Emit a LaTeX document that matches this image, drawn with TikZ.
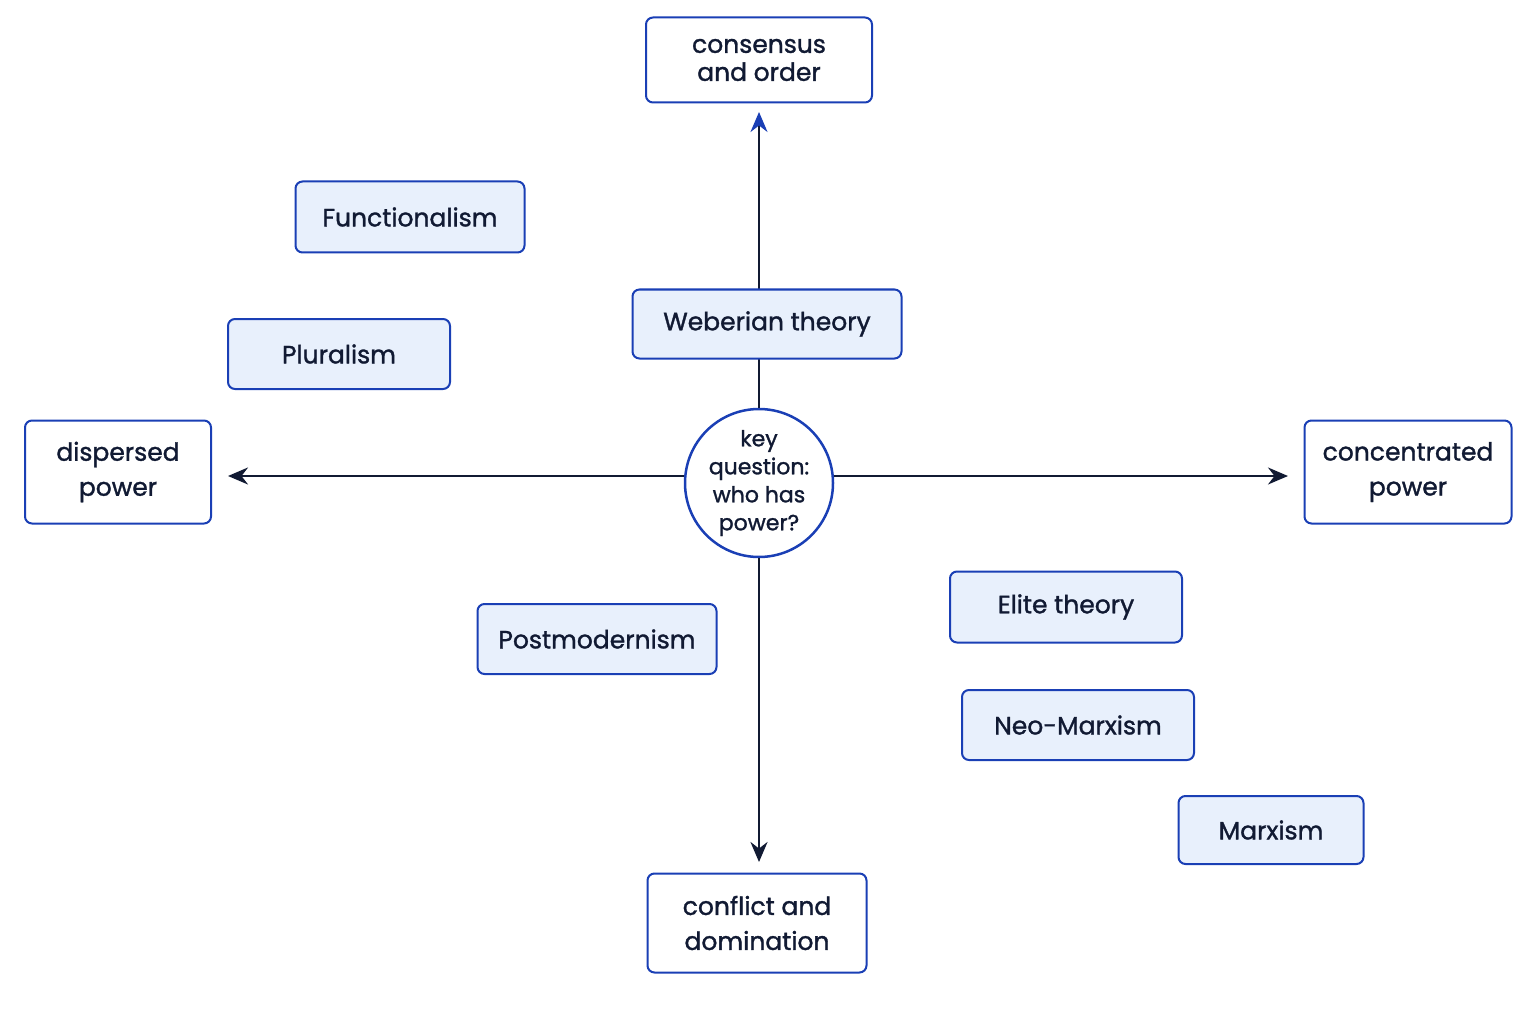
\documentclass[tikz,border=0pt]{standalone}
\usepackage{fontspec}
\setmainfont{Poppins}[FakeBold=1.3]
\usetikzlibrary{arrows.meta}
\definecolor{bblue}{HTML}{1A3FB5}
\definecolor{lfill}{HTML}{E8F0FC}
\definecolor{ink}{HTML}{111A33}
\tikzset{
 theory/.style={draw=bblue,line width=2pt,rounded corners=7pt,fill=lfill,text=ink,font=\fontsize{25}{28}\selectfont,inner sep=0pt,align=center},
 pole/.style={draw=bblue,line width=2pt,rounded corners=7pt,fill=white,text=ink,font=\fontsize{25}{35}\selectfont,inner sep=0pt,align=center},
 axis/.style={draw=ink,line width=2.5pt,-{Stealth[length=20pt,width=17pt]}}
}
\begin{document}
\begin{tikzpicture}[x=1pt,y=-1pt]
\useasboundingbox (0,0) rectangle (1536,1024);
\node[pole,minimum width=226,minimum height=85,font=\fontsize{25}{28}\selectfont] (co) at (759,60) {consensus\\and order};
\node[pole,minimum width=186,minimum height=103] (dp) at (118,472) {dispersed\\power};
\node[pole,minimum width=207,minimum height=103] (cp) at (1408,472) {concentrated\\power};
\node[pole,minimum width=219,minimum height=99] (cd) at (757,923) {conflict and\\domination};
\node[circle,draw=bblue,line width=2.5pt,fill=white,text=ink,minimum size=148,inner sep=0pt,align=center,font=\fontsize{22}{28}\selectfont] (q) at (759,483) {key\\question:\\who has\\power?};
\coordinate (up) at (759,112);
\coordinate (dn) at (759,862);
\coordinate (lf) at (228,476);
\coordinate (rt) at (1288,476);
\draw[axis,-{Stealth[length=20pt,width=17pt,color=bblue]}] (q.north) -- (up);
\draw[axis] (q.south) -- (dn);
\draw[axis] (q.west |- 0,476) -- (lf);
\draw[axis] (q.east |- 0,476) -- (rt);
\node[theory,minimum width=229,minimum height=71] (fu) at (410,217) {Functionalism};
\node[theory,minimum width=269,minimum height=69] (we) at (767,324) {Weberian theory};
\node[theory,minimum width=222,minimum height=70] (pl) at (339,354) {Pluralism};
\node[theory,minimum width=239,minimum height=70] (pm) at (597,639) {Postmodernism};
\node[theory,minimum width=232,minimum height=71] (el) at (1066,607) {Elite theory};
\node[theory,minimum width=232,minimum height=70] (nm) at (1078,725) {Neo-Marxism};
\node[theory,minimum width=185,minimum height=68] (ma) at (1271,830) {Marxism};
\end{tikzpicture}
\end{document}
